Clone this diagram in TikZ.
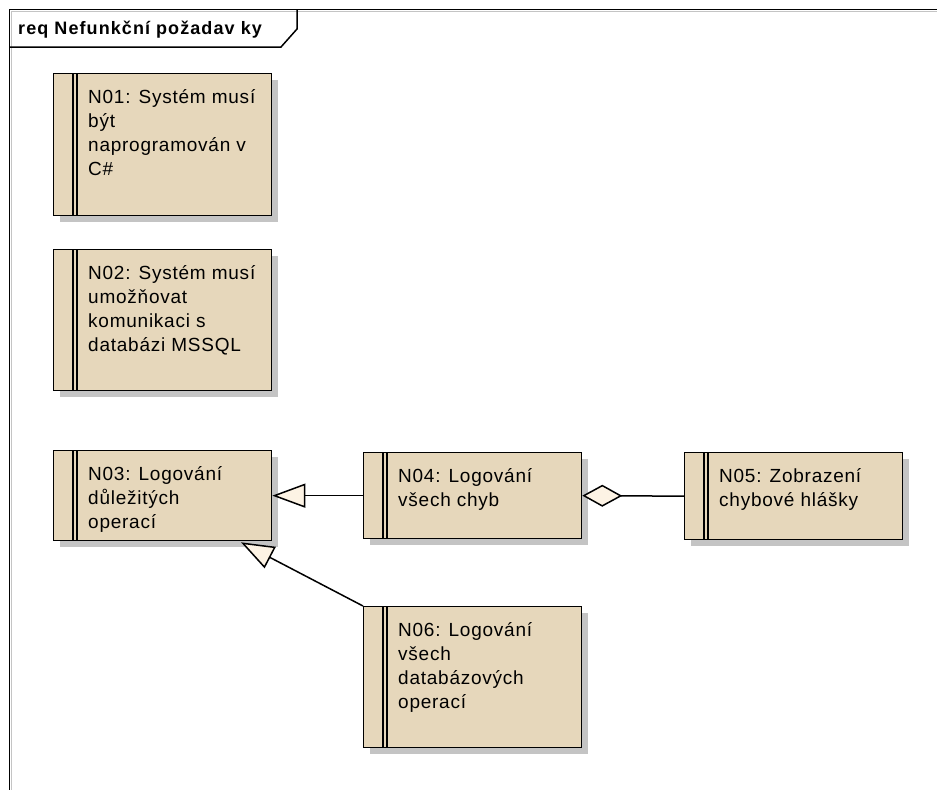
\documentclass[tikz,border=0pt]{standalone}
\usepackage{fontspec}
\setmainfont{Liberation Sans}
\usetikzlibrary{calc,arrows.meta,shadows}

\definecolor{reqfill}{RGB}{230,215,187}
\definecolor{shadowgray}{RGB}{196,196,196}
\definecolor{headfill}{RGB}{253,243,228}

\tikzset{
  reqbox/.style={draw=black, line width=1.3pt, fill=reqfill,
    minimum width=218pt, anchor=north west, inner sep=0pt,
    general shadow={fill=shadowgray, shadow xshift=6pt, shadow yshift=-6pt}},
  reqbar/.style={line width=1.3pt},
  reqtext/.style={anchor=base west, inner sep=0pt,
    font=\addfontfeatures{LetterSpace=4}\fontsize{19}{24}\selectfont},
  titletext/.style={anchor=base west, inner sep=0pt,
    font=\addfontfeatures{LetterSpace=6}\fontsize{18}{20}\selectfont\bfseries},
  frameline/.style={line width=1.5pt},
  conn/.style={line width=1.5pt},
  gen/.style={conn, -{Triangle[fill=headfill, length=33pt, width=24pt]}},
  agg/.style={conn, -{Diamond[fill=headfill, length=40pt, width=22pt]}},
}

% requirement element: name, x, y, height, text
\newcommand\reqelem[5]{%
  \node[reqbox, minimum height=#4pt] (#1) at (#2,#3) {};
  \draw[reqbar] ($(#1.north west)+(20,0)$) -- ($(#1.south west)+(20,0)$);
  \draw[reqbar] ($(#1.north west)+(24,0)$) -- ($(#1.south west)+(24,0)$);
  \node[reqtext] (#1-text) at ($(#1.north west)+(35,30)$)
    {\parbox[t]{180pt}{\raggedright #5}};
}

\begin{document}
\begin{tikzpicture}[x=1pt, y=-1pt]
  \useasboundingbox (0,0) rectangle (937,790);

  % diagram frame with its name tab
  \draw[shadowgray, line width=1.5pt] (937,11.5) -- (11.5,11.5) -- (11.5,790);
  \draw[frameline] (937,9.5) -- (9.5,9.5) -- (9.5,790);
  \draw[frameline] (9.5,47) -- (281,47) -- (297,29) -- (297,9.5);
  \node[titletext] (title) at (18,34) {req Nefunkční požadav ky};

  % requirements
  \reqelem{n01}{53}{73}{142}{N01: Systém musí\\být\\naprogramován v\\C\#}
  \reqelem{n02}{53}{249}{141}{N02: Systém musí\\umožňovat\\komunikaci s\\databázi MSSQL}
  \reqelem{n03}{53}{450}{90}{N03: Logování\\důležitých\\operací}
  \reqelem{n04}{363}{452}{86}{N04: Logování\\všech chyb}
  \reqelem{n05}{684}{452}{87}{N05: Zobrazení\\chybové hlášky}
  \reqelem{n06}{363}{606}{141}{N06: Logování\\všech\\databázových\\operací}

  % relationships
  \coordinate (n03tip) at ($(n03.south west)+(188,1)$);
  \draw[gen] (n04.west) -- (n03.east);
  \draw[gen] (n06.north west) -- (n03tip);
  \draw[agg] (n05.west) -- (n04.east);
\end{tikzpicture}
\end{document}
